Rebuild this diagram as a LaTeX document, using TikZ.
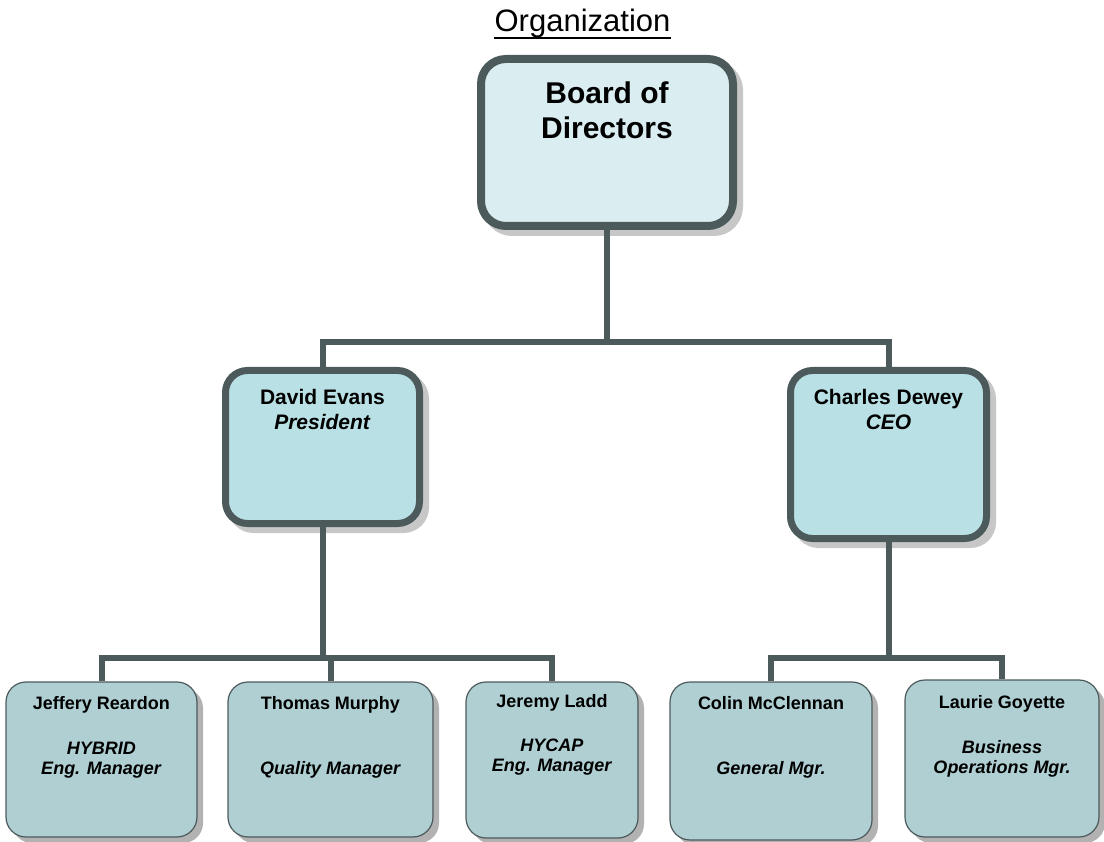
\documentclass[tikz,border=0pt]{standalone}
\usepackage{fontspec}
\setmainfont{Liberation Sans}
\usetikzlibrary{positioning,shadows}

\definecolor{edgegray}{RGB}{76,90,92}
\definecolor{boardfill}{RGB}{218,237,240}
\definecolor{officerfill}{RGB}{185,224,228}
\definecolor{managerfill}{RGB}{175,207,210}

\begin{document}
\begin{tikzpicture}[x=1pt, y=-1pt]
      \tikzstyle{box}=[rectangle, draw=edgegray, inner sep=0pt]
      \tikzstyle{board box}=[box, rounded corners=25pt, line width=8pt, fill=boardfill, minimum width=252, minimum height=167,
        drop shadow={shadow xshift=6pt, shadow yshift=-6pt, fill=black!22, draw=black!22, line width=8pt, opacity=1}]
      \tikzstyle{officer box}=[box, rounded corners=22pt, line width=7pt, fill=officerfill,
        drop shadow={shadow xshift=6pt, shadow yshift=-6pt, fill=black!22, draw=black!22, line width=7pt, opacity=1}]
      \tikzstyle{manager box}=[box, rounded corners=20pt, line width=1.2pt, fill=managerfill,
        drop shadow={shadow xshift=6pt, shadow yshift=-6pt, fill=black!30, opacity=1}]
      \tikzstyle{box text}=[inner sep=0pt, align=center, font=\bfseries]
      \tikzstyle{board text}=[box text, font=\bfseries\fontsize{30}{35}\selectfont]
      \tikzstyle{officer text}=[box text, font=\bfseries\fontsize{21}{25}\selectfont]
      \tikzstyle{manager text}=[box text, font=\bfseries\fontsize{18}{20}\selectfont]
      \tikzstyle{link}=[draw=edgegray, line width=6pt]

      \useasboundingbox (0,0) rectangle (1104,842);

      % title
      \node[inner sep=0pt, anchor=base, font=\fontsize{31}{36}\selectfont] (title) at (582.5,32) {Organization};
      \draw[line width=2pt] ([yshift=-6.5pt]title.base west) -- ([yshift=-6.5pt]title.base east);

      % board and officers
      \node[board box] (board) at (607,142.5) {};
      \node[board text, below=27pt of board.north] (board label) {Board of\\Directors};

      \node[officer box, minimum width=194, minimum height=153] (evans) at (322.5,447) {};
      \node[officer text, below=22pt of evans.north] (evans label) {David Evans\\\textit{President}};
      \node[officer box, minimum width=196, minimum height=168] (dewey) at (888.5,454.5) {};
      \node[officer text, below=22pt of dewey.north] (dewey label) {Charles Dewey\\\textit{CEO}};

      % managers
      \node[manager box, minimum width=191, minimum height=155] (reardon) at (101.5,759.5) {};
      \node[manager box, minimum width=205, minimum height=155] (murphy) at (330.5,759.5) {};
      \node[manager box, minimum width=172, minimum height=156] (ladd) at (552,760) {};
      \node[manager box, minimum width=202, minimum height=158] (mcclennan) at (771,761) {};
      \node[manager box, minimum width=194, minimum height=157] (goyette) at (1002,758.5) {};

      \node[manager text, below=15pt of reardon.north] (reardon label) {Jeffery Reardon\\[25pt]\textit{HYBRID}\\\textit{Eng. Manager}};
      \node[manager text, below=15pt of murphy.north] (murphy label) {Thomas Murphy\\[45pt]\textit{Quality Manager}};
      \node[manager text, below=13pt of ladd.north] (ladd label) {Jeremy Ladd\\[24pt]\textit{HYCAP}\\\textit{Eng. Manager}};
      \node[manager text, below=15pt of mcclennan.north] (mcclennan label) {Colin McClennan\\[45pt]\textit{General Mgr.}};
      \node[manager text, below=16pt of goyette.north] (goyette label) {Laurie Goyette\\[25pt]\textit{Business}\\\textit{Operations Mgr.}};

      % connectors
      \coordinate (top fork) at (board.south |- 0,342);
      \draw[link] (board.south) -- (top fork);
      \draw[link] (evans.north) |- (top fork) -| (dewey.north);

      \coordinate (left fork) at (evans.south |- 0,658);
      \draw[link] (evans.south) -- (left fork);
      \draw[link] (reardon.north) |- (ladd.north |- left fork) -- (ladd.north);
      \draw[link] (murphy.north) -- (murphy.north |- left fork);

      \coordinate (right fork) at (dewey.south |- 0,658);
      \draw[link] (dewey.south) -- (right fork);
      \draw[link] (mcclennan.north) |- (goyette.north |- right fork) -- (goyette.north);
\end{tikzpicture}
\end{document}
